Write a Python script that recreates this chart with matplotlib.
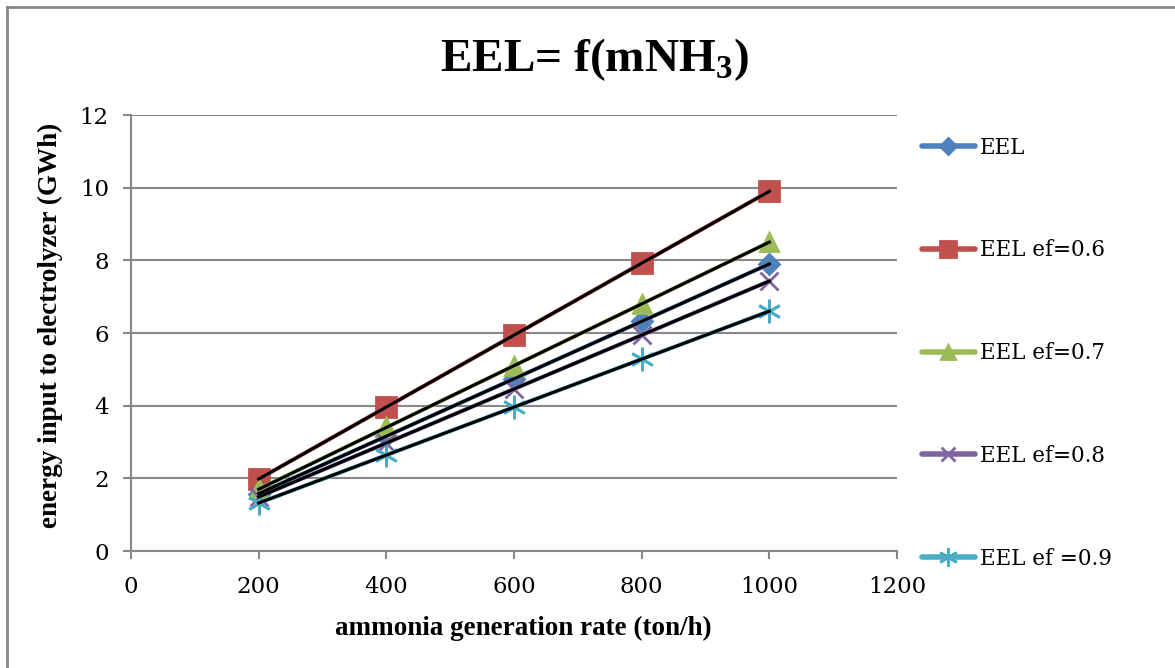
import numpy as np
import matplotlib.pyplot as plt
from matplotlib.lines import Line2D

# ammonia generation rate (ton/h)
rate = [200, 400, 600, 800, 1000]

# energy input to electrolyzer (GWh)
eel = [1.58, 3.16, 4.74, 6.32, 7.90]
eel_06 = [1.98, 3.96, 5.94, 7.92, 9.90]
eel_07 = [1.70, 3.40, 5.10, 6.80, 8.50]
eel_08 = [1.49, 2.97, 4.46, 5.94, 7.43]
eel_09 = [1.32, 2.64, 3.96, 5.28, 6.60]

labels = ['EEL', 'EEL ef=0.6', 'EEL ef=0.7', 'EEL ef=0.8', 'EEL ef =0.9']
colors = ['#4F81BD', '#C0504D', '#9BBB59', '#8064A2', '#4BACC6']
markers = ['D', 's', '^', 'x', (6, 2, 0)]
msizes = [10, 14, 13, 13, 17]

times = ['Liberation Serif', 'DejaVu Serif']
cambria = ['DejaVu Serif']
plt.rcParams['mathtext.fontset'] = 'custom'
plt.rcParams['mathtext.bf'] = 'Liberation Serif:bold'
plt.rcParams['mathtext.rm'] = 'Liberation Serif'

fig = plt.figure(figsize=(11.75, 6.68), dpi=100)
ax = fig.add_axes([131 / 1175, 1 - 551 / 668, (897 - 131) / 1175, (551 - 115) / 668])

series = [eel, eel_06, eel_07, eel_08, eel_09]
for vals, lab, c, m, ms in zip(series, labels, colors, markers, msizes):
    ax.plot(rate, vals, color=c, lw=3, marker=m, markersize=ms,
            markeredgewidth=2, markerfacecolor=c, markeredgecolor=c,
            label=lab, zorder=3)

# linear trendlines on top
for vals in series:
    k, b = np.polyfit(rate, vals, 1)
    xx = np.array([rate[0], rate[-1]])
    ax.plot(xx, k * xx + b, color='black', lw=2.2, zorder=4)

ax.set_xlim(0, 1200)
ax.set_ylim(0, 12)
ax.set_xticks(range(0, 1201, 200))
ax.set_yticks(range(0, 13, 2))
ax.grid(axis='y', color='#878787', lw=1.5)
ax.set_axisbelow(True)
for s in ['top', 'right']:
    ax.spines[s].set_visible(False)
for s in ['left', 'bottom']:
    ax.spines[s].set_color('#878787')
    ax.spines[s].set_linewidth(1.5)
ax.tick_params(direction='out', length=6, width=1.5, color='#878787',
               labelsize=16.5)
ax.tick_params(axis='x', pad=12)
ax.tick_params(axis='y', pad=10)
for t in ax.get_xticklabels() + ax.get_yticklabels():
    t.set_family(cambria)

ax.set_xlabel('ammonia generation rate (ton/h)', family=times,
              fontsize=19.5, fontweight='bold', va='center')
ax.set_ylabel('energy input to electrolyzer (GWh)', family=times,
              fontsize=19.5, fontweight='bold', va='center')
ax.xaxis.set_label_coords((523 - 131) / 766, (551 - 628) / 436)
ax.yaxis.set_label_coords((50 - 131) / 766, (551 - 325) / 436)

fig.text(0.506, 1 - 60 / 668, r'EEL= f(mNH$_\mathbf{3}$)', ha='center', va='center',
         family=times, fontsize=34, fontweight='bold')

handles = [Line2D([0], [0], color=c, lw=4, marker=m, markersize=ms * 0.8,
                  markerfacecolor=c, markeredgecolor=c, markeredgewidth=2,
                  solid_capstyle='round')
           for c, m, ms in zip(colors, markers, msizes)]
leg = fig.legend(handles, labels, loc='upper left',
                 bbox_to_anchor=(911 / 1175, 1 - 126 / 668), frameon=False,
                 prop={'family': cambria, 'size': 15.5}, labelspacing=3.75,
                 handlelength=2.45, handletextpad=0.25, borderpad=0)

# chart area border (left and top edges visible)
fig.add_artist(Line2D([7 / 1175, 7 / 1175], [0, 1 - 7 / 668], color='#878787',
                      lw=2, transform=fig.transFigure))
fig.add_artist(Line2D([7 / 1175, 1], [1 - 7 / 668, 1 - 7 / 668], color='#878787',
                      lw=2, transform=fig.transFigure))

fig.savefig('out.png', dpi=100)
